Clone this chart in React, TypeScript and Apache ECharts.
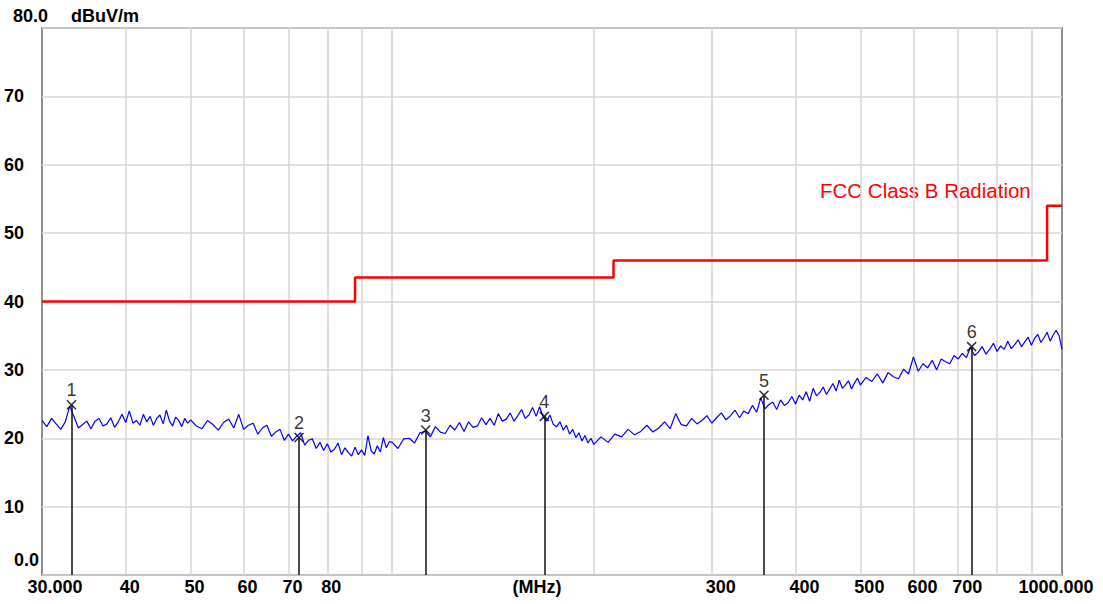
import React, { useEffect, useRef } from "react";
import * as echarts from "echarts";

// Measured trace (frequency in MHz, level in dBuV/m)
const traceFreqs = [
  30, 30.5, 31, 31.5, 32, 32.5, 33, 33.5, 34, 34.5, 35, 35.5, 36, 36.5, 37, 37.5, 38, 38.5, 39, 39.5,
  40, 40.5, 41, 41.5, 42, 42.5, 43, 43.5, 44, 44.5, 45, 45.5, 46, 46.5, 47, 47.5, 48, 48.5, 49, 49.5,
  50, 51, 52, 53, 54, 55, 56, 57, 58, 59, 60, 61, 62, 63, 64, 65, 66, 67, 68, 69,
  70, 71, 72, 73, 74, 75, 76, 77, 78, 79, 80, 81, 82, 83, 84, 85, 86, 87, 88, 89,
  90, 91, 92, 93, 94, 95, 96, 97, 98, 99,
  100, 102, 104, 106, 108, 110, 112, 114, 116, 118, 120, 122, 124, 126, 128, 130, 132, 134, 136, 138,
  140, 142, 144, 146, 148, 150, 152, 154, 156, 158, 160, 162, 164, 166, 168, 170, 172, 174, 176, 178,
  180, 182, 184, 186, 188, 190, 192, 194, 196, 198,
  200, 205, 210, 215, 220, 225, 230, 235, 240, 245, 250, 255, 260, 265, 270, 275, 280, 285, 290, 295,
  300, 305, 310, 315, 320, 325, 330, 335, 340, 345, 350, 355, 360, 365, 370, 375, 380, 385, 390, 395,
  400, 405, 410, 415, 420, 425, 430, 435, 440, 445, 450, 455, 460, 465, 470, 475, 480, 485, 490, 495,
  500, 510, 520, 530, 540, 550, 560, 570, 580, 590, 600, 610, 620, 630, 640, 650, 660, 670, 680, 690,
  700, 710, 720, 730, 740, 750, 760, 770, 780, 790, 800, 810, 820, 830, 840, 850, 860, 870, 880, 890,
  900, 910, 920, 930, 940, 950, 960, 970, 980, 990, 1000,
];
const traceLevels = [
  22.6, 21.7, 22.9, 22.1, 21.3, 22.4, 24.7, 23.1, 21.5, 22.0, 22.5, 21.4, 22.5, 22.9, 21.8, 22.1, 23.0, 21.6, 22.4, 23.5,
  22.3, 24.0, 22.2, 22.6, 21.9, 23.5, 22.4, 23.2, 21.9, 22.9, 23.4, 22.1, 24.1, 22.5, 21.8, 23.1, 22.6, 21.7, 22.9, 22.2,
  22.7, 21.8, 21.4, 22.6, 22.0, 21.2, 22.3, 22.8, 21.5, 23.5, 21.3, 21.9, 22.2, 20.6, 21.5, 21.9, 20.3, 20.9, 21.3, 19.7,
  20.6, 19.6, 20.3, 20.8, 19.0, 19.7, 19.9, 18.5, 19.4, 18.2, 19.2, 18.0, 18.4, 19.3, 17.6, 18.6, 17.9, 17.4, 18.7, 17.6,
  18.3, 17.5, 20.4, 18.2, 17.7, 18.9, 18.0, 20.1, 18.6, 19.5,
  19.4, 18.5, 19.9, 20.0, 19.3, 20.8, 21.0, 20.2, 21.7, 20.9, 20.7, 21.9, 21.2, 22.3, 21.0, 22.4, 21.6, 21.8, 23.0, 22.0,
  22.9, 21.9, 23.6, 22.5, 22.8, 23.7, 22.5, 23.3, 24.2, 22.9, 23.4, 24.5, 23.2, 24.6, 23.1, 22.5, 23.4, 22.0, 21.7, 22.4,
  21.2, 21.9, 20.6, 21.3, 20.1, 20.8, 19.6, 20.4, 19.3, 20.0,
  19.1, 20.2, 19.4, 20.6, 20.2, 21.3, 20.5, 21.0, 21.9, 20.9, 21.5, 22.4, 21.4, 23.6, 22.0, 21.8, 22.9, 22.1, 22.6, 23.3,
  22.2, 23.0, 23.7, 22.7, 23.3, 24.1, 23.0, 24.0, 23.6, 24.8, 23.8, 25.9, 24.3, 24.9, 25.3, 24.2, 25.6, 24.8, 25.2, 26.1,
  25.0, 26.3, 25.6, 26.8, 25.4, 27.3, 26.2, 26.7, 27.5, 26.4, 27.2, 28.0, 26.9, 28.5, 27.3, 27.8, 28.4, 27.2, 28.1, 28.8,
  27.8, 28.9, 28.3, 29.4, 28.1, 29.6, 29.0, 28.7, 30.1, 29.4, 31.9, 29.8, 30.9, 30.3, 31.4, 30.0, 31.6, 31.2, 30.9, 32.1,
  31.6, 32.4, 31.8, 33.3, 32.1, 32.6, 33.4, 32.3, 33.0, 33.9, 32.7, 33.5, 33.0, 34.2, 33.1, 33.7, 34.4, 33.4, 34.1, 34.8,
  33.6, 34.6, 35.2, 34.0, 34.7, 35.5, 34.2, 35.1, 35.8, 35.0, 33.0,
];

// FCC Class B limit
const limitFreqs = [30, 88, 88, 214, 214, 950, 950, 1000];
const limitLevels = [40, 40, 43.5, 43.5, 46, 46, 54, 54];
const limitName = "FCC Class B Radiation";

// Markers
const markerNames = ["1", "2", "3", "4", "5", "6"];
const markerFreqs = [33.2, 72.6, 112.2, 168.7, 359, 733];
const markerLevels = [24.9, 20.1, 21.2, 23.2, 26.3, 33.4];

// Axes
const xGridFreqs = [40, 50, 60, 70, 80, 90, 100, 200, 300, 400, 500, 600, 700, 800, 900];
const xLabelFreqs = [30, 40, 50, 60, 70, 80, 300, 400, 500, 600, 700, 1000];
const xLabelTexts = ["30.000", "40", "50", "60", "70", "80", "300", "400", "500", "600", "700", "1000.000"];
const xUnit = "(MHz)";
const yMin = 0;
const yMax = 80;
const yInterval = 10;
const yMinText = "0.0";
const yMaxText = "80.0";
const yUnit = "dBuV/m";

const FONT = '"Liberation Sans", Arial, sans-serif';

export default function App() {
  const ref = useRef<HTMLDivElement>(null);

  useEffect(() => {
    if (!ref.current) return;
    const chart = echarts.init(ref.current, null, { renderer: "svg" });

    const labelFont = { fontFamily: FONT, fontSize: 18, fontWeight: "bold", color: "#000" };
    const richX = {
      c: { ...labelFont, padding: [0, 0, 0, 26] },
      a: { ...labelFont, padding: [0, 0, 0, 8] },
      b: { ...labelFont, padding: [0, 0, 0, 18] },
      d: { ...labelFont, padding: [0, 12, 0, 0] },
    };
    const xFormatter = (v: number) => {
      const i = xLabelFreqs.findIndex((f) => Math.abs(f - v) < 1e-6 * f);
      if (i < 0) return "";
      const t = xLabelTexts[i];
      if (i === 0) return `{c|${t}}`;
      if (i === xLabelFreqs.length - 1) return `{d|${t}}`;
      if (v < 100) return `{a|${t}}`;
      return `{b|${t}}`;
    };

    const option: any = {
      animation: false,
      backgroundColor: "#ffffff",
      grid: {
        left: 42,
        right: 41,
        top: 28,
        bottom: 29,
        show: true,
        borderColor: "#909090",
        borderWidth: 2,
      },
      xAxis: {
        type: "log",
        logBase: 10,
        min: 30,
        max: 1000,
        axisLine: { show: false },
        axisTick: { show: false, customValues: xGridFreqs },
        splitLine: { show: true, lineStyle: { color: "#d6d6d6", width: 1.5 } },
        axisLabel: {
          show: true,
          customValues: xLabelFreqs,
          margin: 3,
          formatter: xFormatter,
          rich: richX,
          ...labelFont,
        },
      },
      yAxis: {
        type: "value",
        min: yMin,
        max: yMax,
        interval: yInterval,
        axisLine: { show: false },
        axisTick: { show: false },
        splitLine: { show: true, lineStyle: { color: "#d6d6d6", width: 1.5 } },
        axisLabel: {
          margin: 18,
          ...labelFont,
          formatter: (v: number) => (v === yMin || v === yMax ? "" : String(v)),
        },
      },
      graphic: [
        {
          type: "text",
          x: 13,
          y: 16,
          style: { text: yMaxText, font: `bold 18px ${FONT}`, fill: "#000", align: "left", verticalAlign: "middle", textAlign: "left", textVerticalAlign: "middle" },
        },
        {
          type: "text",
          x: 71,
          y: 16,
          style: { text: yUnit, font: `bold 18px ${FONT}`, fill: "#000", align: "left", verticalAlign: "middle", textAlign: "left", textVerticalAlign: "middle" },
        },
        {
          type: "text",
          x: 39,
          y: 560,
          style: { text: yMinText, font: `bold 18px ${FONT}`, fill: "#000", align: "right", verticalAlign: "middle", textAlign: "right", textVerticalAlign: "middle" },
        },
        {
          type: "text",
          x: 537,
          y: 587,
          style: { text: xUnit, font: `bold 18px ${FONT}`, fill: "#000", align: "center", verticalAlign: "middle", textAlign: "center", textVerticalAlign: "middle" },
        },
        {
          type: "text",
          x: 820,
          y: 190,
          style: { text: limitName, font: `20.5px ${FONT}`, fill: "#ff0000", align: "left", verticalAlign: "middle", textAlign: "left", textVerticalAlign: "middle" },
        },
      ],
      series: [
        {
          name: "Trace",
          type: "line",
          data: traceFreqs.map((f, i) => [f, traceLevels[i]]),
          symbol: "none",
          lineStyle: { color: "#0000ff", width: 1.2 },
          itemStyle: { color: "#0000ff" },
          z: 2,
        },
        {
          name: limitName,
          type: "line",
          data: limitFreqs.map((f, i) => [f, limitLevels[i]]),
          symbol: "none",
          lineStyle: { color: "#ff0000", width: 2.5 },
          itemStyle: { color: "#ff0000" },
          z: 3,
        },
        {
          name: "Markers",
          type: "scatter",
          data: markerFreqs.map((f, i) => [f, markerLevels[i]]),
          symbol: "path://M0,0L10,10M10,0L0,10",
          symbolSize: 9,
          itemStyle: { color: "transparent", borderColor: "#000", borderWidth: 1.5 },
          label: {
            show: true,
            position: "top",
            distance: 0,
            formatter: (p: any) => markerNames[p.dataIndex],
            fontFamily: FONT,
            fontSize: 18,
            color: "#000",
          },
          markLine: {
            silent: true,
            symbol: ["none", "none"],
            label: { show: false },
            lineStyle: { color: "#111", width: 1.5, type: "solid" },
            data: markerFreqs.map((f, i) => [{ coord: [f, yMin] }, { coord: [f, markerLevels[i]] }]),
          },
          z: 4,
        },
      ],
    };

    chart.setOption(option);
    return () => chart.dispose();
  }, []);

  return (
    <div
      ref={ref}
      style={{ position: "fixed", left: 0, top: 0, width: 1103, height: 604, background: "#fff" }}
    />
  );
}
